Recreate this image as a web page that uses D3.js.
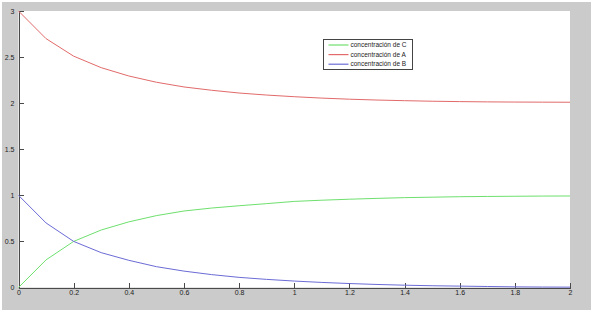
<!DOCTYPE html>
<html lang="es">
<head>
<meta charset="utf-8">
<title>Concentraciones</title>
<script src="https://d3js.org/d3.v7.min.js"></script>
<style>
    body { margin: 0; background: #fff; }
    svg { display: block; font-family: "Liberation Sans", Arial, sans-serif; }
    .axis path, .axis line { stroke: #4a4a4a; shape-rendering: crispEdges; }
    .axis text { fill: #222; font-size: 7px; }
    .serie { fill: none; stroke-width: 1px; }
</style>
</head>
<body>
<svg width="593" height="312"></svg>
<script>
// tiempo (paso 0.1)
const tiempo = [0, 0.1, 0.2, 0.3, 0.4, 0.5, 0.6, 0.7, 0.8, 0.9, 1.0,
    1.1, 1.2, 1.3, 1.4, 1.5, 1.6, 1.7, 1.8, 1.9, 2.0];
const concC = [0, 0.30, 0.50, 0.624, 0.712, 0.78, 0.83, 0.862, 0.887, 0.91, 0.934,
    0.947, 0.958, 0.967, 0.975, 0.98, 0.985, 0.988, 0.99, 0.992, 0.993];
const concA = [3, 2.70, 2.51, 2.385, 2.295, 2.227, 2.176, 2.14, 2.11, 2.088, 2.07,
    2.055, 2.043, 2.034, 2.027, 2.021, 2.017, 2.014, 2.012, 2.011, 2.01];
const concB = [1, 0.70, 0.50, 0.378, 0.295, 0.226, 0.178, 0.14, 0.11, 0.088, 0.07,
    0.055, 0.043, 0.033, 0.025, 0.019, 0.015, 0.011, 0.007, 0.005, 0.004];

const xTicks = [0, 0.2, 0.4, 0.6, 0.8, 1, 1.2, 1.4, 1.6, 1.8, 2];
const yTicks = [0, 0.5, 1, 1.5, 2, 2.5, 3];

const series = [
    { name: "concentración de C", values: concC, color: "#6ee06e" },
    { name: "concentración de A", values: concA, color: "#e26a6a" },
    { name: "concentración de B", values: concB, color: "#6b6bd6" }
];

const svg = d3.select("svg");
const plotLeft = 18.5, plotRight = 570, plotTop = 11, plotBottom = 287.5;

// fondo gris tipo figura de MATLAB
svg.append("rect").attr("x", 2).attr("y", 2).attr("width", 589).attr("height", 308)
    .attr("fill", "#cbcbcb");
svg.append("rect").attr("x", plotLeft).attr("y", plotTop)
    .attr("width", plotRight - plotLeft).attr("height", plotBottom - plotTop).attr("fill", "#fff");

const x = d3.scaleLinear().domain([0, 2]).range([plotLeft, plotRight]);
const y = d3.scaleLinear().domain([0, 3]).range([plotBottom, plotTop]);

svg.append("g").attr("class", "axis")
    .attr("transform", `translate(0,${plotBottom})`)
    .call(d3.axisBottom(x).tickValues(xTicks).tickFormat(d => String(d))
        .tickSizeInner(-5).tickSizeOuter(0).tickPadding(3));

svg.append("g").attr("class", "axis")
    .attr("transform", `translate(${plotLeft},0)`)
    .call(d3.axisLeft(y).tickValues(yTicks).tickFormat(d => String(d))
        .tickSizeInner(-5).tickSizeOuter(0).tickPadding(4));

const line = d3.line()
    .x((d, i) => x(tiempo[i]))
    .y(d => y(d));

svg.selectAll(".serie")
    .data(series)
    .join("path")
    .attr("class", "serie")
    .attr("stroke", d => d.color)
    .attr("d", d => line(d.values));

// leyenda
const leg = svg.append("g").attr("transform", "translate(323.5,39.5)");
leg.append("rect").attr("width", 89).attr("height", 30)
    .attr("fill", "#fff").attr("stroke", "#444");
const item = leg.selectAll(".item")
    .data(series)
    .join("g")
    .attr("class", "item")
    .attr("transform", (d, i) => `translate(0,${5.5 + i * 9.6})`);
item.append("line").attr("x1", 5).attr("x2", 25)
    .attr("stroke", d => d.color).attr("stroke-width", 1.2);
item.append("text").attr("x", 27).attr("dy", "0.35em")
    .attr("font-size", 6.5).attr("fill", "#222")
    .text(d => d.name);
</script>
</body>
</html>
